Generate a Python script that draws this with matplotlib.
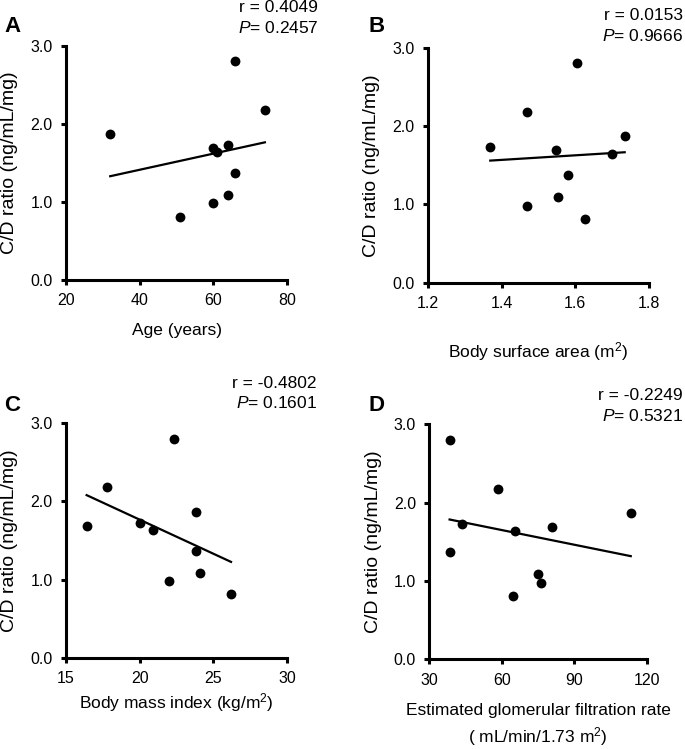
import numpy as np
import matplotlib
matplotlib.use("Agg")
from matplotlib import pyplot as plt

plt.rcParams['font.family'] = ['Liberation Sans', 'DejaVu Sans']
plt.rcParams['mathtext.fontset'] = 'custom'
plt.rcParams['mathtext.rm'] = 'Liberation Sans'
plt.rcParams['mathtext.it'] = 'Liberation Sans:italic'

# C/D ratio for the ten patients (same order in every panel)
cd_ratio    = [2.80, 2.18, 1.87, 1.73, 1.69, 1.64, 1.37, 1.09, 0.98, 0.81]
age         = [66, 74, 32, 64, 60, 61, 66, 64, 60, 51]
bsa         = [1.605, 1.469, 1.734, 1.369, 1.548, 1.700, 1.581, 1.552, 1.468, 1.625]
bmi         = [22.3, 17.8, 23.8, 20.0, 16.4, 20.9, 23.8, 24.1, 22.0, 26.2]
egfr        = [38.4, 58.6, 113.4, 43.5, 80.9, 65.5, 38.4, 74.9, 76.2, 64.6]

panel_letters   = ["A", "B", "C", "D"]
r_texts         = ["0.4049", "0.0153", "-0.4802", "-0.2249"]
p_texts         = ["0.2457", "0.9666", "0.1601", "0.5321"]
x_labels        = ["Age (years)",
                   "Body surface area (m$^2$)",
                   "Body mass index (kg/m$^2$)",
                   "Estimated glomerular filtration rate\n( mL/min/1.73 m$^2$)"]
x_ticks         = [[20, 40, 60, 80], [1.2, 1.4, 1.6, 1.8], [15, 20, 25, 30], [30, 60, 90, 120]]
x_ticklabels    = [["20", "40", "60", "80"], ["1.2", "1.4", "1.6", "1.8"],
                   ["15", "20", "25", "30"], ["30", "60", "90", "120"]]
y_ticks         = [0.0, 1.0, 2.0, 3.0]
y_ticklabels    = ["0.0", "1.0", "2.0", "3.0"]

W, H = 685, 749
fig = plt.figure(figsize=(W / 100, H / 100), dpi=100)

# axes boxes in pixels: left, top, right, bottom
boxes = [(66, 45.7, 287, 280), (428, 47.7, 649, 282.7),
         (66, 423.3, 287, 657.7), (429.3, 424.3, 646.7, 659.3)]
xlabel_y = [330, 352, 703, 725.5]
letter_pos = [(12, 27), (377, 27), (12, 405), (377, 405)]
stat_pos = [(318, 7, 28), (683, 15, 36), (317, 383, 403), (683, 395, 416)]

xs = [age, bsa, bmi, egfr]
for i in range(4):
    l, t, r, b = boxes[i]
    ax = fig.add_axes([l / W, 1 - b / H, (r - l) / W, (b - t) / H])
    x = np.array(xs[i])
    y = np.array(cd_ratio)
    ax.scatter(x, y, s=50, color="black", zorder=3, linewidths=0)
    slope, icpt = np.polyfit(x, y, 1)
    xl = np.array([x.min(), x.max()])
    ax.plot(xl, slope * xl + icpt, color="black", lw=1.6)

    ax.set_xlim(x_ticks[i][0], x_ticks[i][-1])
    ax.set_ylim(0, 3)
    ax.set_xticks(x_ticks[i])
    ax.set_xticklabels(x_ticklabels[i])
    ax.set_yticks(y_ticks)
    ax.set_yticklabels(y_ticklabels)
    for s in ["top", "right"]:
        ax.spines[s].set_visible(False)
    for s in ["left", "bottom"]:
        ax.spines[s].set_linewidth(2.2)
    ax.tick_params(direction="out", length=3.6, width=2.2, labelsize=11.5, pad=6)

    ax.set_xlabel(x_labels[i], fontsize=12.5, va="center", linespacing=1.45)
    ax.xaxis.set_label_coords(0.5, -(xlabel_y[i] - b) / (b - t))
    ax.set_ylabel("C/D ratio (ng/mL/mg)", fontsize=14, va="center")
    ax.yaxis.set_label_coords(-56 / (r - l), 0.5)

    lx, ly = letter_pos[i]
    fig.text(lx / W, 1 - ly / H, panel_letters[i], fontsize=16, fontweight="bold",
             ha="center", va="center")
    sx, ry, py = stat_pos[i]
    fig.text(sx / W, 1 - ry / H, "r = " + r_texts[i], fontsize=12.5, ha="right", va="center")
    fig.text(sx / W, 1 - py / H, "$P$= " + p_texts[i], fontsize=12.5, ha="right", va="center")

fig.savefig("out.png", dpi=100)
